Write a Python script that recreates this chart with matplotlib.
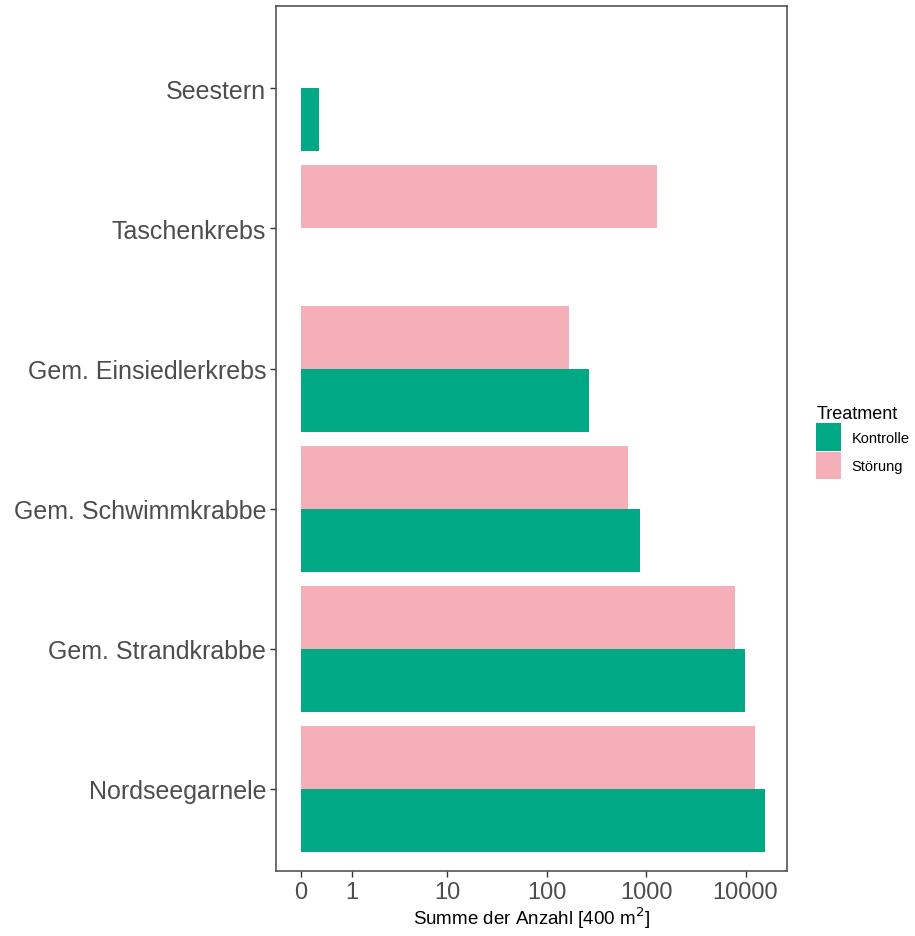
import numpy as np
import matplotlib
matplotlib.use("Agg")
import matplotlib.pyplot as plt
from matplotlib.patches import Patch

plt.rcParams['font.family'] = ['Liberation Sans', 'DejaVu Sans']

# data (bottom to top)
species = ['Nordseegarnele', 'Gem. Strandkrabbe', 'Gem. Schwimmkrabbe',
           'Gem. Einsiedlerkrebs', 'Taschenkrebs', 'Seestern']
kontrolle = [15590, 9880, 872, 268, 0, 0.3]
stoerung = [12360, 7810, 664, 168, 1276, 0]
xticks = [0, 1, 10, 100, 1000, 10000]
xticklabels = ['0', '1', '10', '100', '1000', '10000']

col_k = '#00A884'
col_s = '#F5AFB8'


def fwd(x):
    return np.arcsinh(1.5 * np.asarray(x, dtype=float)) / np.log(10)


def inv(y):
    return np.sinh(np.asarray(y, dtype=float) * np.log(10)) / 1.5


fig = plt.figure(figsize=(9.15, 9.37), dpi=100)
ax = fig.add_axes([0.3017, 0.0694, 0.5580, 0.9235])

y = np.arange(1, len(species) + 1)
h = 0.45
ax.barh(y - h / 2, kontrolle, height=h, color=col_k, label='Kontrolle')
ax.barh(y + h / 2, stoerung, height=h, color=col_s, label='Störung')

ax.set_xscale('function', functions=(fwd, inv))
ax.set_xlim(-0.399, 25900)
ax.set_ylim(0.415, 6.59)

ax.set_xticks(xticks)
ax.set_xticklabels(xticklabels)
ax.set_yticks(y)
ax.set_yticklabels(species)
ax.minorticks_off()

ax.tick_params(axis='both', length=4, width=1, color='#333333',
               labelcolor='#4D4D4D', pad=3)
ax.tick_params(axis='y', labelsize=18)
ax.tick_params(axis='x', labelsize=17)
for s in ax.spines.values():
    s.set_color('#555555')
    s.set_linewidth(1.2)

ax.set_xlabel('Summe der Anzahl [400 m$^2$]', fontsize=13.5, color='black', labelpad=1)

handles = [Patch(facecolor=col_k, label='Kontrolle'),
           Patch(facecolor=col_s, label='Störung')]
fig.legend(handles=handles, title='Treatment', loc='center left',
           bbox_to_anchor=(0.878, 0.527), frameon=False, fontsize=10.5,
           title_fontsize=13, handlelength=1.7, handleheight=2.5,
           handletextpad=0.7, labelspacing=0.1, alignment='left')

fig.savefig('out.png', dpi=100)
